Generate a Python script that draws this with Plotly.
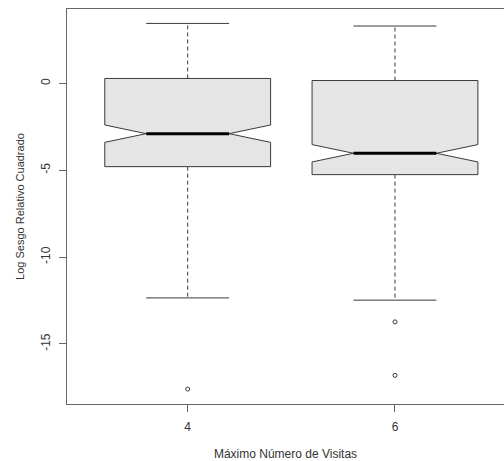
import plotly.graph_objects as go

# ---- data ----
categories = ["4", "6"]
positions = [1, 2]
q1 = [-4.79, -5.25]
median = [-2.89, -4.02]
q3 = [0.29, 0.17]
notch_span = [0.50, 0.50]
whisker_low = [-12.35, -12.48]
whisker_high = [3.46, 3.31]
outliers = [[-17.6], [-13.73, -16.81]]

# ---- style ----
box_w = 0.8
cap_half = box_w / 4
line_col = "#3a3a3a"
text_col = "#333333"
font = "Liberation Sans, Arial, sans-serif"

fig = go.Figure()

# notched boxes (whiskers drawn separately so they can be dashed)
fig.add_trace(go.Box(
    x=positions, q1=q1, median=median, q3=q3,
    lowerfence=q1, upperfence=q3,
    notched=True, notchspan=notch_span, notchwidth=0.25,
    width=box_w, whiskerwidth=0.0,
    fillcolor="#e5e5e5", line=dict(color=line_col, width=1),
    boxpoints=False, showlegend=False, hoverinfo="skip",
))

# dashed whisker stems
wx, wy = [], []
for p, lo, hi, a, b in zip(positions, whisker_low, whisker_high, q1, q3):
    wx += [p, p, None, p, p, None]
    wy += [b, hi, None, a, lo, None]
fig.add_trace(go.Scatter(x=wx, y=wy, mode="lines",
                         line=dict(color=line_col, width=1, dash="4px,3px"),
                         showlegend=False, hoverinfo="skip"))

# whisker caps
cx, cy = [], []
for p, lo, hi in zip(positions, whisker_low, whisker_high):
    cx += [p - cap_half, p + cap_half, None, p - cap_half, p + cap_half, None]
    cy += [hi, hi, None, lo, lo, None]
fig.add_trace(go.Scatter(x=cx, y=cy, mode="lines",
                         line=dict(color=line_col, width=1),
                         showlegend=False, hoverinfo="skip"))

# thick medians
mx, my = [], []
for p, m in zip(positions, median):
    mx += [p - cap_half, p + cap_half, None]
    my += [m, m, None]
fig.add_trace(go.Scatter(x=mx, y=my, mode="lines",
                         line=dict(color="black", width=3),
                         showlegend=False, hoverinfo="skip"))

# outliers
ox, oy = [], []
for p, vals in zip(positions, outliers):
    for v in vals:
        ox.append(p)
        oy.append(v)
fig.add_trace(go.Scatter(x=ox, y=oy, mode="markers",
                         marker=dict(symbol="circle-open", size=4,
                                     color=line_col, line=dict(width=1)),
                         showlegend=False, hoverinfo="skip"))

fig.update_layout(
    width=504, height=461,
    margin=dict(l=67, r=0, t=9, b=57),
    paper_bgcolor="white", plot_bgcolor="white",
    font=dict(family=font, size=12, color=text_col),
    xaxis=dict(
        range=[0.4178, 2.526], tickmode="array",
        tickvals=positions, ticktext=categories,
        showgrid=False, zeroline=False, automargin=False,
        showline=True, mirror=True, linecolor="#666", linewidth=1,
        ticks="outside", ticklen=7, tickcolor="#666",
        ticklabelstandoff=5,
        title=dict(text="Máximo Número de Visitas", standoff=16,
                   font=dict(size=12, color=text_col)),
    ),
    yaxis=dict(
        range=[-18.46, 4.29], tickvals=[0, -5, -10, -15],
        ticktext=["0", "-5", "-10", "-15"],
        tickangle=-90, automargin=False,
        showgrid=False, zeroline=False,
        showline=True, mirror=False, linecolor="#666", linewidth=1,
        ticks="outside", ticklen=7, tickcolor="#666",
        ticklabelstandoff=4,
        title=dict(text="Log Sesgo Relativo Cuadrado", standoff=12,
                   font=dict(size=11, color=text_col)),
    ),
)

fig.write_html("out.html", config={"displayModeBar": False},
               post_script="document.body.style.margin='0';document.body.style.overflow='hidden';")
